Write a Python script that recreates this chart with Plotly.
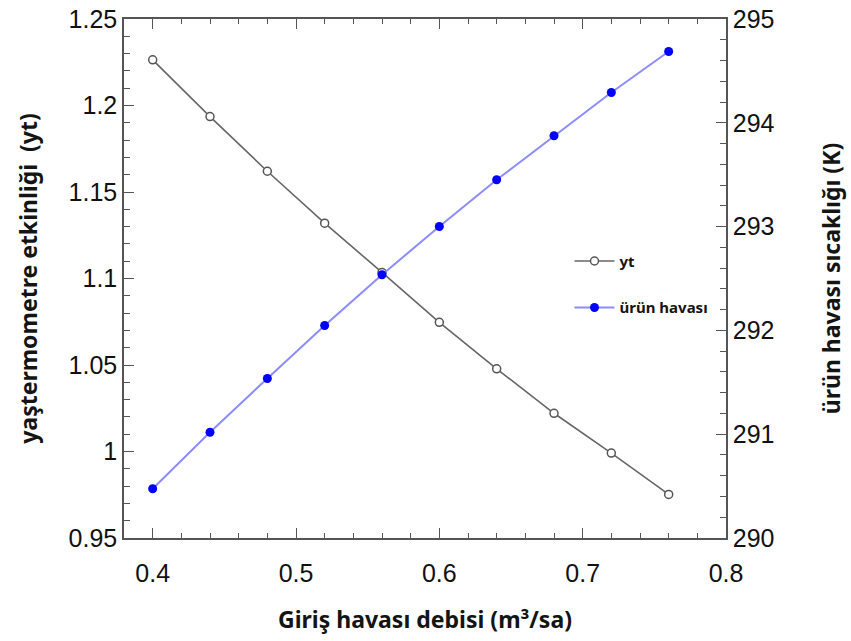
import plotly.graph_objects as go

x_debi = [0.40, 0.44, 0.48, 0.52, 0.56, 0.60, 0.64, 0.68, 0.72, 0.76]
yt_vals = [1.2264, 1.1936, 1.1620, 1.1320, 1.1035, 1.0747, 1.0478, 1.0221, 0.9991, 0.9752]
urun_vals = [290.474, 291.019, 291.537, 292.047, 292.536, 293.001, 293.451, 293.875, 294.292, 294.687]

x_ticks = [0.4, 0.5, 0.6, 0.7, 0.8]
y1_ticks = [0.95, 1.0, 1.05, 1.1, 1.15, 1.2, 1.25]
y1_labels = ["0.95", "1", "1.05", "1.1", "1.15", "1.2", "1.25"]
y2_ticks = [290, 291, 292, 293, 294, 295]

title_font = dict(family="Noto Sans", size=23, color="#141414")
tick_font = dict(family="Liberation Sans", size=25, color="#111111")
axis_col = "#555555"

fig = go.Figure()
fig.add_trace(go.Scatter(
    x=x_debi, y=yt_vals, name="yt", mode="lines+markers",
    line=dict(color="#666666", width=1.6),
    marker=dict(symbol="circle", size=8, color="white", line=dict(width=1.5, color="#555555")),
    legendgroup="a", yaxis="y"))
fig.add_trace(go.Scatter(
    x=x_debi, y=urun_vals, name="ürün havası", mode="lines+markers",
    line=dict(color="#8c8cff", width=2),
    marker=dict(symbol="circle", size=9, color="#0000ff"),
    legendgroup="b", yaxis="y2"))

fig.update_layout(
    width=851, height=641,
    margin=dict(l=124, r=125, t=19, b=103, autoexpand=False),
    paper_bgcolor="white", plot_bgcolor="white",
    showlegend=True,
    legend=dict(x=0.74, y=0.565, xanchor="left", yanchor="top",
                font=dict(family="Noto Sans", size=15, color="#141414", weight="bold"),
                tracegroupgap=24, traceorder="grouped", bgcolor="rgba(0,0,0,0)",
                itemwidth=40),
    xaxis=dict(range=[0.38, 0.8], tickvals=x_ticks, ticktext=["0.4", "0.5", "0.6", "0.7", "0.8"],
               ticks="inside", ticklen=10, tickwidth=1.3, tickcolor=axis_col,
               minor=dict(dtick=0.02, tick0=0.4, ticks="inside", ticklen=5, tickwidth=1.2, tickcolor=axis_col),
               showline=True, linecolor=axis_col, linewidth=1.5, mirror="ticks",
               showgrid=False, zeroline=False, tickfont=tick_font, ticklabelstandoff=12,
               title=dict(text="Giriş havası debisi (m³/sa)", font=dict(**title_font, weight="bold"), standoff=26)),
    yaxis=dict(range=[0.95, 1.25], tickvals=y1_ticks, ticktext=y1_labels,
               ticks="inside", ticklen=10, tickwidth=1.3, tickcolor=axis_col,
               minor=dict(dtick=0.01, tick0=0.95, ticks="inside", ticklen=6, tickwidth=1.2, tickcolor=axis_col),
               showline=True, linecolor=axis_col, linewidth=1.5,
               showgrid=False, zeroline=False, tickfont=tick_font,
               title=dict(text="yaştermometre etkinliği  (yt)", font=dict(**title_font, weight="bold"), standoff=25)),
    yaxis2=dict(range=[290, 295], tickvals=y2_ticks, overlaying="y", side="right",
                ticks="inside", ticklen=10, tickwidth=1.3, tickcolor=axis_col,
                minor=dict(dtick=0.2, tick0=290, ticks="inside", ticklen=6, tickwidth=1.2, tickcolor=axis_col),
                showline=True, linecolor=axis_col, linewidth=1.5,
                showgrid=False, zeroline=False, tickfont=tick_font,
                title=dict(text="ürün havası sıcaklığı (K)", font=dict(**title_font, weight="bold"), standoff=50)),
)

fig.write_html("out.html")
